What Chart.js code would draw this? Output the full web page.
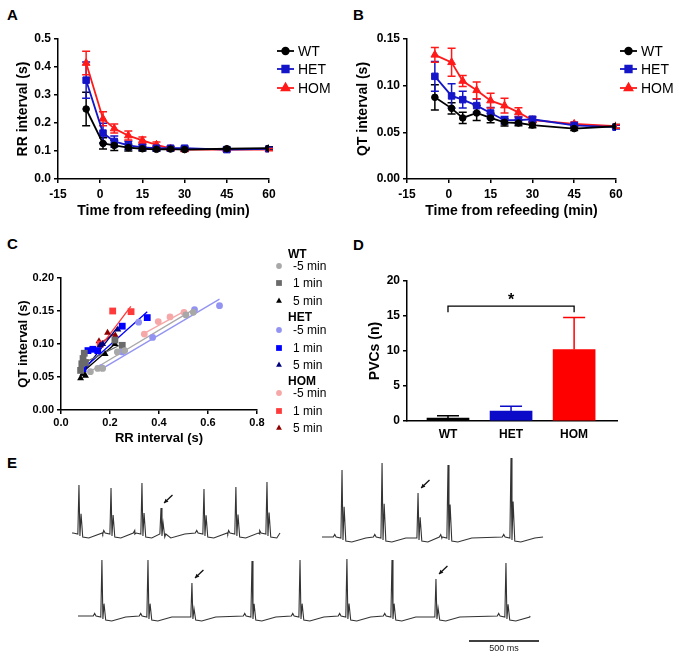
<!DOCTYPE html>
<html>
<head>
<meta charset="utf-8">
<script src="https://cdn.jsdelivr.net/npm/chart.js@4.4.1/dist/chart.umd.min.js"></script>
<style>
  body { margin: 0; background: #fff; width: 676px; height: 657px; position: relative; overflow: hidden;
         font-family: "Liberation Sans", Arial, sans-serif; }
  canvas { position: absolute; }
  .panel { position: absolute; font-weight: bold; font-size: 15px; line-height: 15px; color: #000; }
</style>
</head>
<body>
<div class="panel" style="left:7px;top:7px">A</div>
<div class="panel" style="left:353px;top:7px">B</div>
<div class="panel" style="left:7px;top:236px">C</div>
<div class="panel" style="left:353px;top:237px">D</div>
<div class="panel" style="left:7px;top:455px">E</div>

<canvas id="chartA" width="338" height="230" style="left:0;top:0"></canvas>
<canvas id="chartB" width="338" height="230" style="left:338px;top:0"></canvas>
<canvas id="chartC" width="338" height="220" style="left:0;top:230px"></canvas>
<canvas id="chartD" width="338" height="220" style="left:338px;top:230px"></canvas>
<canvas id="chartE" width="676" height="207" style="left:0;top:450px"></canvas>

<script>
// ---- data ----
const times = [-5, 1, 5, 10, 15, 20, 25, 30, 45, 60];
const genotypes = ['WT', 'HET', 'HOM'];

// A: RR interval (s), mean and SEM
const rrWT = [0.25, 0.127, 0.12, 0.112, 0.108, 0.106, 0.107, 0.105, 0.108, 0.11];
const rrWTerr = [0.06, 0.02, 0.018, 0.012, 0.008, 0.006, 0.006, 0.006, 0.005, 0.005];
const rrHET = [0.353, 0.164, 0.134, 0.12, 0.113, 0.11, 0.11, 0.11, 0.105, 0.108];
const rrHETerr = [0.065, 0.035, 0.02, 0.015, 0.01, 0.008, 0.006, 0.006, 0.005, 0.005];
const rrHOM = [0.414, 0.215, 0.18, 0.155, 0.138, 0.122, 0.109, 0.105, 0.105, 0.105];
const rrHOMerr = [0.042, 0.025, 0.016, 0.016, 0.012, 0.01, 0.006, 0.005, 0.004, 0.004];

// B: QT interval (s), mean and SEM
const qtWT = [0.0875, 0.0757, 0.0654, 0.0707, 0.0654, 0.0607, 0.06, 0.0578, 0.054, 0.0565];
const qtWTerr = [0.0135, 0.006, 0.006, 0.008, 0.005, 0.004, 0.003, 0.003, 0.002, 0.002];
const qtHET = [0.11, 0.089, 0.085, 0.0786, 0.0707, 0.063, 0.063, 0.064, 0.0575, 0.0555];
const qtHETerr = [0.016, 0.013, 0.009, 0.007, 0.006, 0.004, 0.004, 0.003, 0.002, 0.002];
const qtHOM = [0.133, 0.125, 0.105, 0.095, 0.084, 0.0786, 0.0714, 0.063, 0.059, 0.0565];
const qtHOMerr = [0.008, 0.015, 0.006, 0.009, 0.008, 0.008, 0.005, 0.003, 0.002, 0.002];

// C: QT vs RR per animal, at -5, 1 and 5 min
const conditions = ['-5 min', '1 min', '5 min'];
const wtRR = [[0.12, 0.15, 0.17, 0.23, 0.26, 0.51, 0.54], [0.08, 0.085, 0.09, 0.095, 0.1, 0.22, 0.25], [0.08, 0.09, 0.1, 0.18, 0.22]];
const wtQT = [[0.058, 0.063, 0.063, 0.088, 0.09, 0.144, 0.148], [0.06, 0.07, 0.078, 0.086, 0.072, 0.106, 0.098], [0.048, 0.055, 0.052, 0.085, 0.1]];
const hetRR = [[0.165, 0.25, 0.317, 0.374, 0.545, 0.647], [0.09, 0.11, 0.13, 0.15, 0.25, 0.352], [0.09, 0.16, 0.17, 0.232]];
const hetQT = [[0.064, 0.088, 0.133, 0.11, 0.152, 0.158], [0.062, 0.09, 0.092, 0.09, 0.127, 0.14], [0.055, 0.098, 0.1, 0.122]];
const homRR = [[0.34, 0.397, 0.445, 0.502], [0.16, 0.211, 0.286], [0.155, 0.19, 0.222]];
const homQT = [[0.115, 0.134, 0.141, 0.148], [0.1, 0.15, 0.149], [0.104, 0.117, 0.113]];
// linear fits: [rr1, qt1, rr2, qt2]
const wtFit = [[0.13, 0.061, 0.54, 0.152], [0.085, 0.07, 0.25, 0.1], [0.09, 0.058, 0.22, 0.1]];
const hetFit = [[0.17, 0.063, 0.647, 0.168], [0.09, 0.062, 0.352, 0.149], [0.09, 0.058, 0.23, 0.125]];
const homFit = [[0.334, 0.115, 0.51, 0.151], [0.155, 0.093, 0.285, 0.157], [0.155, 0.1, 0.22, 0.116]];

// D: PVC count
const pvcMean = [0.4, 1.4, 10.2];
const pvcErr = [0.35, 0.7, 4.6];

// E: ECG traces (ms from trace start, peak height in a.u.)
const trace1Beats = [50, 279, 500, 636, 943, 1171, 1393];
const trace1Amps = [48, 45, 50, 25, 44, 46, 51];
const trace2Beats = [143, 429, 686, 900, 1350];
const trace2Amps = [67, 74, 44, 72, 79];
const trace3Beats = [171, 500, 814, 1243, 1586, 1921, 2243, 2557, 3057];
const trace3Amps = [56, 56, 33, 55, 56, 57, 56, 37, 53];
const trace1Pvc = [3], trace2Pvc = [2], trace3Pvc = [2, 7];

// ---- styling ----
Chart.defaults.font.family = '"Liberation Sans", Arial, sans-serif';
Chart.defaults.color = '#000';
Chart.defaults.animation = false;

const gColor = { WT: '#000000', HET: '#1414c8', HOM: '#ff1a1a' };
const gStyle = { WT: 'circle', HET: 'rect', HOM: 'triangle' };
const gRadius = { WT: 3.3, HET: 4.6, HOM: 4.5 };

const tickFont = { size: 12, weight: 'bold' };
const titleFont = { size: 14, weight: 'bold' };

function axis(extra) {
  return Object.assign({
    grid: { drawOnChartArea: false, tickLength: 4, color: '#000', lineWidth: 1.5 },
    border: { color: '#000', width: 1.5 },
  }, extra);
}

const errorBars = {
  id: 'errorBars',
  beforeDatasetsDraw(chart) {
    const ctx = chart.ctx;
    const xs = chart.scales.x, ys = chart.scales.y;
    chart.data.datasets.forEach((ds) => {
      if (!ds.errors) return;
      ctx.save();
      ctx.strokeStyle = ds.borderColor;
      ctx.lineWidth = 1.5;
      ds.data.forEach((p, j) => {
        const x = xs.getPixelForValue(p.x);
        const yTop = ys.getPixelForValue(p.y + ds.errors[j]);
        const yBot = ys.getPixelForValue(p.y - ds.errors[j]);
        const c = ds.cap;
        ctx.beginPath();
        ctx.moveTo(x, yTop); ctx.lineTo(x, yBot);
        ctx.moveTo(x - c, yTop); ctx.lineTo(x + c, yTop);
        ctx.moveTo(x - c, yBot); ctx.lineTo(x + c, yBot);
        ctx.stroke();
      });
      ctx.restore();
    });
  }
};

function lineLegend(x0, rows) {
  return {
    id: 'lineLegend',
    afterDraw(chart) {
      const ctx = chart.ctx;
      ctx.save();
      genotypes.forEach((g, i) => {
        const y = rows[i];
        ctx.strokeStyle = gColor[g]; ctx.fillStyle = gColor[g]; ctx.lineWidth = 1.8;
        ctx.beginPath(); ctx.moveTo(x0, y); ctx.lineTo(x0 + 17, y); ctx.stroke();
        Chart.helpers.drawPoint(ctx, { pointStyle: gStyle[g], radius: gRadius[g], rotation: 0, borderWidth: 1 }, x0 + 8.5, y);
        ctx.fillStyle = '#000';
        ctx.font = '14px "Liberation Sans", Arial, sans-serif';
        ctx.textBaseline = 'middle';
        ctx.fillText(g, x0 + 21, y + 1);
      });
      ctx.restore();
    }
  };
}

function timeSets(vals) {
  return genotypes.map((g, k) => ({
    label: g,
    data: times.map((t, i) => ({ x: t, y: vals[k][0][i] })),
    errors: vals[k][1],
    cap: 4,
    showLine: true,
    borderColor: gColor[g], backgroundColor: gColor[g],
    borderWidth: 1.8,
    pointStyle: gStyle[g], pointRadius: gRadius[g], pointBorderWidth: 1,
  }));
}

function timeChart(id, vals, yMax, yStep, dec, yTitle, pad, yWidth, legendX) {
  return new Chart(document.getElementById(id), {
    type: 'scatter',
    data: { datasets: timeSets(vals) },
    plugins: [errorBars, lineLegend(legendX, [51, 69, 88])],
    options: {
      responsive: false,
      devicePixelRatio: 1,
      layout: { padding: pad },
      plugins: { legend: { display: false }, tooltip: { enabled: false } },
      scales: {
        x: axis({
          type: 'linear', min: -15, max: 60,
          ticks: { stepSize: 15, font: tickFont, padding: 4, color: '#000' },
          title: { display: true, text: 'Time from refeeding (min)', font: titleFont, padding: 0, color: '#000' },
          afterFit: (s) => { s.height = 41; },
        }),
        y: axis({
          min: 0, max: yMax,
          ticks: { stepSize: yStep, font: tickFont, padding: 3, color: '#000', callback: (v) => v.toFixed(dec) },
          title: { display: true, text: yTitle, font: titleFont, padding: 0, color: '#000' },
          afterFit: (s) => { s.width = yWidth; },
        }),
      },
    },
  });
}

// A
timeChart('chartA', [[rrWT, rrWTerr], [rrHET, rrHETerr], [rrHOM, rrHOMerr]], 0.5, 0.1, 1,
  'RR interval (s)', { left: 15, top: 39, right: 69, bottom: 10 }, 43, 277);
// B
timeChart('chartB', [[qtWT, qtWTerr], [qtHET, qtHETerr], [qtHOM, qtHOMerr]], 0.15, 0.05, 2,
  'QT interval (s)', { left: 17, top: 39, right: 60, bottom: 10 }, 52, 282);

// C
const cColors = {
  WT: ['#a8a8a8', '#6a6a6a', '#000000'],
  HET: ['#9393f2', '#0000ff', '#00007c'],
  HOM: ['#f6a7a7', '#ff3a3a', '#8e0000'],
};
const cStyles = ['circle', 'rect', 'triangle'];
const cRadii = [3.4, 4.8, 4];
const cRR = { WT: wtRR, HET: hetRR, HOM: homRR };
const cQT = { WT: wtQT, HET: hetQT, HOM: homQT };
const cFit = { WT: wtFit, HET: hetFit, HOM: homFit };

const cPoints = [], cLines = [];
genotypes.forEach((g) => {
  conditions.forEach((c, k) => {
    cPoints.push({
      label: g + ' ' + c,
      data: cRR[g][k].map((r, i) => ({ x: r, y: cQT[g][k][i] })),
      pointStyle: cStyles[k], pointRadius: cRadii[k], pointBorderWidth: 0,
      backgroundColor: cColors[g][k], borderColor: cColors[g][k],
    });
    const f = cFit[g][k];
    cLines.push({
      label: g + ' ' + c + ' fit',
      data: [{ x: f[0], y: f[1] }, { x: f[2], y: f[3] }],
      showLine: true, pointRadius: 0, borderWidth: 1.3,
      borderColor: cColors[g][k],
    });
  });
});

const cLegendRows = [25, 36, 53, 71, 88, 100, 118, 135, 152, 163, 181, 198];
const cLegend = {
  id: 'cLegend',
  afterDraw(chart) {
    const ctx = chart.ctx;
    ctx.save();
    ctx.textBaseline = 'middle';
    let r = 0;
    genotypes.forEach((g) => {
      ctx.fillStyle = '#000';
      ctx.font = 'bold 12px "Liberation Sans", Arial, sans-serif';
      ctx.fillText(g, 288, cLegendRows[r++]);
      conditions.forEach((c, k) => {
        const y = cLegendRows[r++];
        ctx.fillStyle = cColors[g][k];
        Chart.helpers.drawPoint(ctx, { pointStyle: cStyles[k], radius: cRadii[k] * 0.85, rotation: 0, borderWidth: 0 }, 279, y);
        ctx.fillStyle = '#000';
        ctx.font = '12px "Liberation Sans", Arial, sans-serif';
        ctx.fillText(c, 293, y + 1);
      });
    });
    ctx.restore();
  }
};

new Chart(document.getElementById('chartC'), {
  type: 'scatter',
  data: { datasets: cPoints.concat(cLines) },
  plugins: [cLegend],
  options: {
    responsive: false,
    devicePixelRatio: 1,
    layout: { padding: { left: 16, top: 48, right: 81, bottom: 4 } },
    plugins: { legend: { display: false }, tooltip: { enabled: false } },
    scales: {
      x: axis({
        type: 'linear', min: 0, max: 0.8,
        ticks: { stepSize: 0.2, font: { size: 11, weight: 'bold' }, padding: 2, color: '#000', callback: (v) => v.toFixed(1) },
        title: { display: true, text: 'RR interval (s)', font: { size: 13, weight: 'bold' }, padding: 0, color: '#000' },
        afterFit: (s) => { s.height = 36; },
      }),
      y: axis({
        min: 0, max: 0.2,
        ticks: { stepSize: 0.05, font: { size: 11, weight: 'bold' }, padding: 3, color: '#000', callback: (v) => v.toFixed(2) },
        title: { display: true, text: 'QT interval (s)', font: { size: 13, weight: 'bold' }, padding: 0, color: '#000' },
        afterFit: (s) => { s.width = 45; },
      }),
    },
  },
});

// D
const dColors = ['#000000', '#0a0ac8', '#ff0000'];
const dBracket = {
  id: 'dBracket',
  afterDatasetsDraw(chart) {
    const ctx = chart.ctx, xs = chart.scales.x, ys = chart.scales.y;
    const x1 = xs.getPixelForValue(0), x2 = xs.getPixelForValue(2);
    const yb = ys.getPixelForValue(16.4), yt = ys.getPixelForValue(15.55);
    ctx.save();
    ctx.strokeStyle = '#000'; ctx.lineWidth = 1.3;
    ctx.beginPath();
    ctx.moveTo(x1, yt); ctx.lineTo(x1, yb); ctx.lineTo(x2, yb); ctx.lineTo(x2, yt);
    ctx.stroke();
    ctx.fillStyle = '#000';
    ctx.font = 'bold 16px "Liberation Sans", Arial, sans-serif';
    ctx.textAlign = 'center'; ctx.textBaseline = 'middle';
    ctx.fillText('*', (x1 + x2) / 2, ys.getPixelForValue(17.2));
    ctx.restore();
  }
};

new Chart(document.getElementById('chartD'), {
  type: 'bar',
  data: {
    datasets: [{
      data: pvcMean.map((v, i) => ({ x: i, y: v })),
      errors: pvcErr, cap: 11,
      backgroundColor: dColors,
      barThickness: 42,
    }],
  },
  plugins: [{
    id: 'dErr',
    afterDatasetsDraw(chart) {
      const ctx = chart.ctx, xs = chart.scales.x, ys = chart.scales.y;
      const ds = chart.data.datasets[0];
      ctx.save();
      ctx.lineWidth = 1.5;
      ds.data.forEach((p, j) => {
        const x = xs.getPixelForValue(p.x);
        const yTop = ys.getPixelForValue(p.y + ds.errors[j]);
        const yBot = ys.getPixelForValue(p.y);
        ctx.strokeStyle = dColors[j];
        ctx.beginPath();
        ctx.moveTo(x, yBot); ctx.lineTo(x, yTop);
        ctx.moveTo(x - ds.cap, yTop); ctx.lineTo(x + ds.cap, yTop);
        ctx.stroke();
      });
      ctx.restore();
    }
  }, dBracket],
  options: {
    responsive: false,
    devicePixelRatio: 1,
    layout: { padding: { left: 29, top: 51, right: 59, bottom: 0 } },
    plugins: { legend: { display: false }, tooltip: { enabled: false } },
    scales: {
      x: {
        type: 'linear', min: -0.65, max: 2.68, offset: false,
        afterBuildTicks: (s) => { s.ticks = genotypes.map((g, i) => ({ value: i })); },
        ticks: { font: tickFont, padding: 6, color: '#000', callback: (v) => genotypes[v] },
        grid: { drawOnChartArea: false, drawTicks: false },
        border: { color: '#000', width: 1.5 },
        afterFit: (s) => { s.height = 29; },
      },
      y: axis({
        min: 0, max: 20,
        ticks: { stepSize: 5, font: tickFont, padding: 3, color: '#000' },
        title: { display: true, text: 'PVCs (n)', font: titleFont, padding: 0, color: '#000' },
        afterFit: (s) => { s.width = 40; },
      }),
    },
  },
});

// E
const msPerPx = 500 / 70;
const traces = [
  { start: 514, dur: 1486, base: 124, beats: trace1Beats, amps: trace1Amps, pvc: trace1Pvc, tw: 0.4 },
  { start: 2300, dur: 1579, base: 120, beats: trace2Beats, amps: trace2Amps, pvc: trace2Pvc, tw: 0.45 },
  { start: 557, dur: 3229, base: 41, beats: trace3Beats, amps: trace3Amps, pvc: trace3Pvc, tw: 0.22 },
];

function buildTrace(tr) {
  let pts = [{ x: tr.start, y: tr.base }];
  tr.beats.forEach((b, i) => {
    const t = tr.start + b, a = tr.amps[i], y0 = tr.base;
    if (!tr.pvc.includes(i)) {
      pts.push({ x: t - 62, y: y0 }, { x: t - 52, y: y0 + 2.5 }, { x: t - 42, y: y0 });
    }
    pts.push(
      { x: t - 8, y: y0 - 1 }, { x: t, y: y0 + a }, { x: t + 7, y: y0 - 3 },
      { x: t + 15, y: y0 + a * tr.tw }, { x: t + 27, y: y0 - 4 },
      { x: t + 70, y: y0 - 5 }, { x: t + 170, y: y0 - 1 }
    );
  });
  pts.push({ x: tr.start + tr.dur, y: tr.base });
  pts = pts.filter((p) => p.x >= tr.start && p.x <= tr.start + tr.dur);
  pts.sort((p, q) => p.x - q.x);
  return pts;
}

const scaleBar = [{ x: 3350, y: 16 }, { x: 3850, y: 16 }];

const eDatasets = traces.map((tr) => ({
  data: buildTrace(tr), showLine: true, pointRadius: 0, borderWidth: 1.1, borderColor: '#333333',
}));
eDatasets.push({ data: scaleBar, showLine: true, pointRadius: 0, borderWidth: 1.5, borderColor: '#000' });

const eArrows = {
  id: 'eArrows',
  afterDatasetsDraw(chart) {
    const ctx = chart.ctx, xs = chart.scales.x, ys = chart.scales.y;
    ctx.save();
    ctx.strokeStyle = '#111'; ctx.fillStyle = '#111'; ctx.lineWidth = 1.3;
    traces.forEach((tr) => {
      tr.pvc.forEach((i) => {
        const t = tr.start + tr.beats[i], peak = tr.base + tr.amps[i];
        const tx = xs.getPixelForValue(t + 22), ty = ys.getPixelForValue(peak + 5);
        const sx = xs.getPixelForValue(t + 82), sy = ys.getPixelForValue(peak + 13);
        const ang = Math.atan2(ty - sy, tx - sx);
        ctx.beginPath(); ctx.moveTo(sx, sy); ctx.lineTo(tx, ty); ctx.stroke();
        ctx.beginPath();
        ctx.moveTo(tx, ty);
        ctx.lineTo(tx - 4.5 * Math.cos(ang - 0.5), ty - 4.5 * Math.sin(ang - 0.5));
        ctx.lineTo(tx - 4.5 * Math.cos(ang + 0.5), ty - 4.5 * Math.sin(ang + 0.5));
        ctx.closePath(); ctx.fill();
      });
    });
    ctx.font = '9px "Liberation Sans", Arial, sans-serif';
    ctx.textAlign = 'center'; ctx.textBaseline = 'middle';
    ctx.fillStyle = '#222';
    ctx.fillText('500 ms', xs.getPixelForValue((scaleBar[0].x + scaleBar[1].x) / 2), ys.getPixelForValue(8));
    ctx.restore();
  }
};

new Chart(document.getElementById('chartE'), {
  type: 'scatter',
  data: { datasets: eDatasets },
  plugins: [eArrows],
  options: {
    responsive: false,
    devicePixelRatio: 1,
    layout: { padding: 0 },
    plugins: { legend: { display: false }, tooltip: { enabled: false } },
    scales: {
      x: { type: 'linear', display: false, min: 0, max: 676 * msPerPx },
      y: { display: false, min: 0, max: 207 },
    },
  },
});
</script>
</body>
</html>
